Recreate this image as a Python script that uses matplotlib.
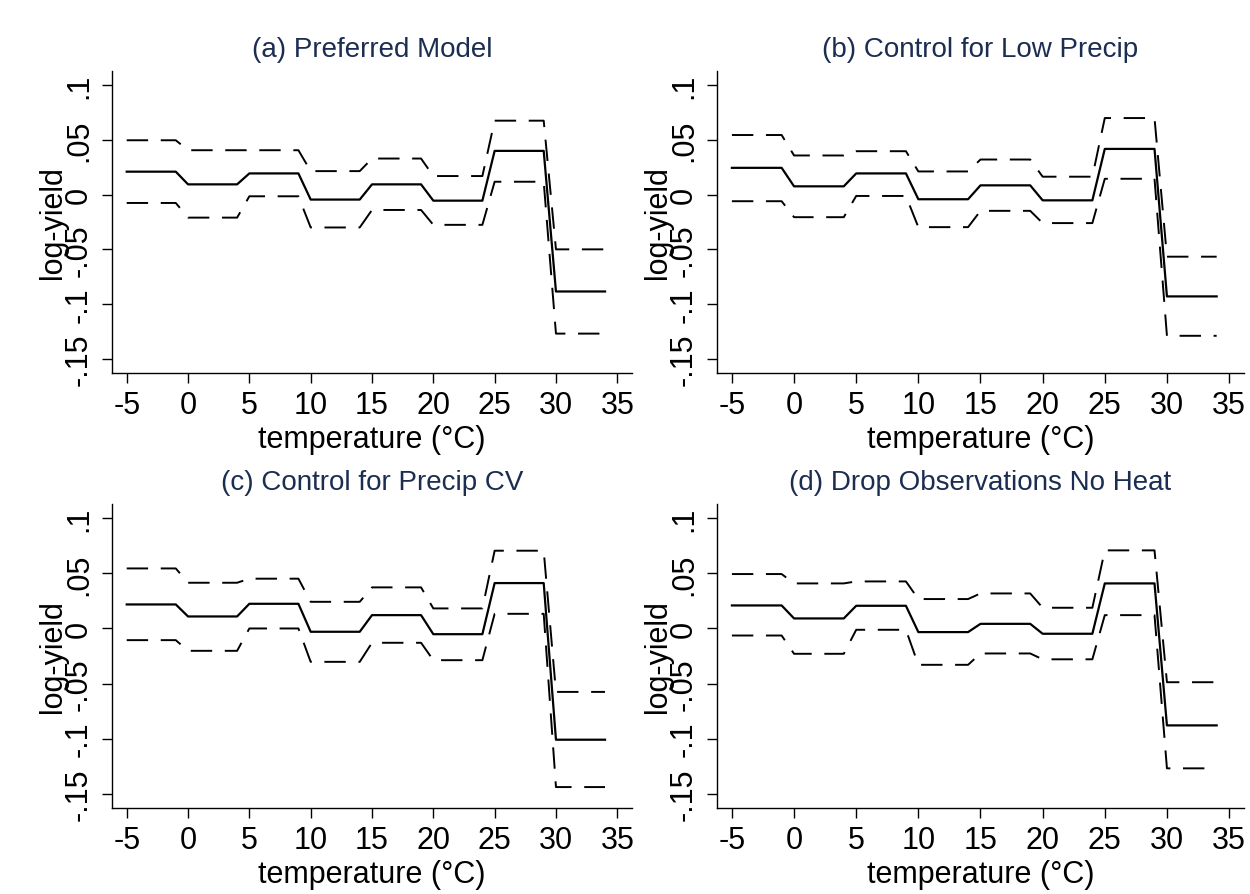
import matplotlib
matplotlib.use("Agg")
import matplotlib.pyplot as plt
import numpy as np

plt.rcParams['font.family'] = ['Liberation Sans', 'DejaVu Sans']
plt.rcParams['axes.unicode_minus'] = False

# temperature bins: [-5,-1], [0,4], ..., [30,34]
bin_start = [-5, 0, 5, 10, 15, 20, 25, 30]
bin_end = [-1, 4, 9, 14, 19, 24, 29, 34]

titles = ["(a) Preferred Model", "(b) Control for Low Precip",
          "(c) Control for Precip CV", "(d) Drop Observations No Heat"]

est_a = [0.021, 0.0094, 0.0194, -0.0045, 0.0094, -0.0055, 0.040, -0.0885]
hi_a = [0.0497, 0.0406, 0.0406, 0.0215, 0.033, 0.017, 0.0676, -0.050]
lo_a = [-0.0076, -0.021, -0.0015, -0.030, -0.014, -0.0276, 0.0118, -0.127]

est_b = [0.0245, 0.0076, 0.0194, -0.0042, 0.0085, -0.0052, 0.0418, -0.093]
hi_b = [0.0545, 0.0358, 0.0397, 0.0212, 0.0321, 0.0164, 0.070, -0.0567]
lo_b = [-0.006, -0.0206, -0.0012, -0.0297, -0.0148, -0.026, 0.0145, -0.129]

est_c = [0.0218, 0.0109, 0.0224, -0.003, 0.0121, -0.0052, 0.0412, -0.101]
hi_c = [0.0545, 0.0415, 0.0452, 0.0242, 0.0373, 0.0182, 0.0706, -0.0576]
lo_c = [-0.0106, -0.0203, 0.0, -0.0303, -0.013, -0.0288, 0.0133, -0.144]

est_d = [0.0209, 0.0091, 0.0206, -0.0033, 0.0042, -0.0048, 0.0409, -0.088]
hi_d = [0.0494, 0.0409, 0.0427, 0.0267, 0.0318, 0.0188, 0.0709, -0.0488]
lo_d = [-0.0064, -0.023, -0.0012, -0.033, -0.0227, -0.028, 0.0121, -0.127]

xticks = [-5, 0, 5, 10, 15, 20, 25, 30, 35]
yticks = [-0.15, -0.1, -0.05, 0, 0.05, 0.1]
ytick_labels = ["-.15", "-.1", "-.05", "0", ".05", ".1"]

W, H = 1250, 895
# axes boxes in pixels: left, top, right, bottom
boxes = [(112, 72, 632, 374), (717, 72, 1244, 374),
         (112, 505, 632, 809), (717, 505, 1244, 809)]
title_color = "#1c2d52"


def steps(vals):
    xs, ys = [], []
    for s, e, v in zip(bin_start, bin_end, vals):
        xs += [s, e]
        ys += [v, v]
    return xs, ys


fig = plt.figure(figsize=(W / 100, H / 100), dpi=100)
data = [(est_a, hi_a, lo_a), (est_b, hi_b, lo_b),
        (est_c, hi_c, lo_c), (est_d, hi_d, lo_d)]

for i, (est, hi, lo) in enumerate(data):
    l, t, r, b = boxes[i]
    ax = fig.add_axes([l / W, 1 - b / H, (r - l) / W, (b - t) / H])
    for vals in (hi, lo):
        x, y = steps(vals)
        ax.plot(x, y, color="black", lw=1.4, dashes=(11, 6.5))
    x, y = steps(est)
    ax.plot(x, y, color="black", lw=1.6)

    ax.set_xlim(-6.2, 36.2)
    ax.set_ylim(-0.163, 0.113)
    ax.set_xticks(xticks)
    ax.set_yticks(yticks)
    ax.set_yticklabels(ytick_labels, rotation=90, va="center")
    ax.tick_params(axis="both", labelsize=22, length=7, width=1, direction="out",
                   color="black")
    ax.tick_params(axis="x", pad=5)
    ax.tick_params(axis="y", pad=6)
    for sp in ("top", "right"):
        ax.spines[sp].set_visible(False)
    for sp in ("left", "bottom"):
        ax.spines[sp].set_linewidth(1)
    ax.set_xlabel("temperature (°C)", fontsize=22, labelpad=3)
    ax.set_ylabel("log-yield", fontsize=22, labelpad=-3)
    ax.set_title(titles[i], fontsize=20, color=title_color, pad=11)

fig.savefig("out.png", dpi=100, facecolor="white")
